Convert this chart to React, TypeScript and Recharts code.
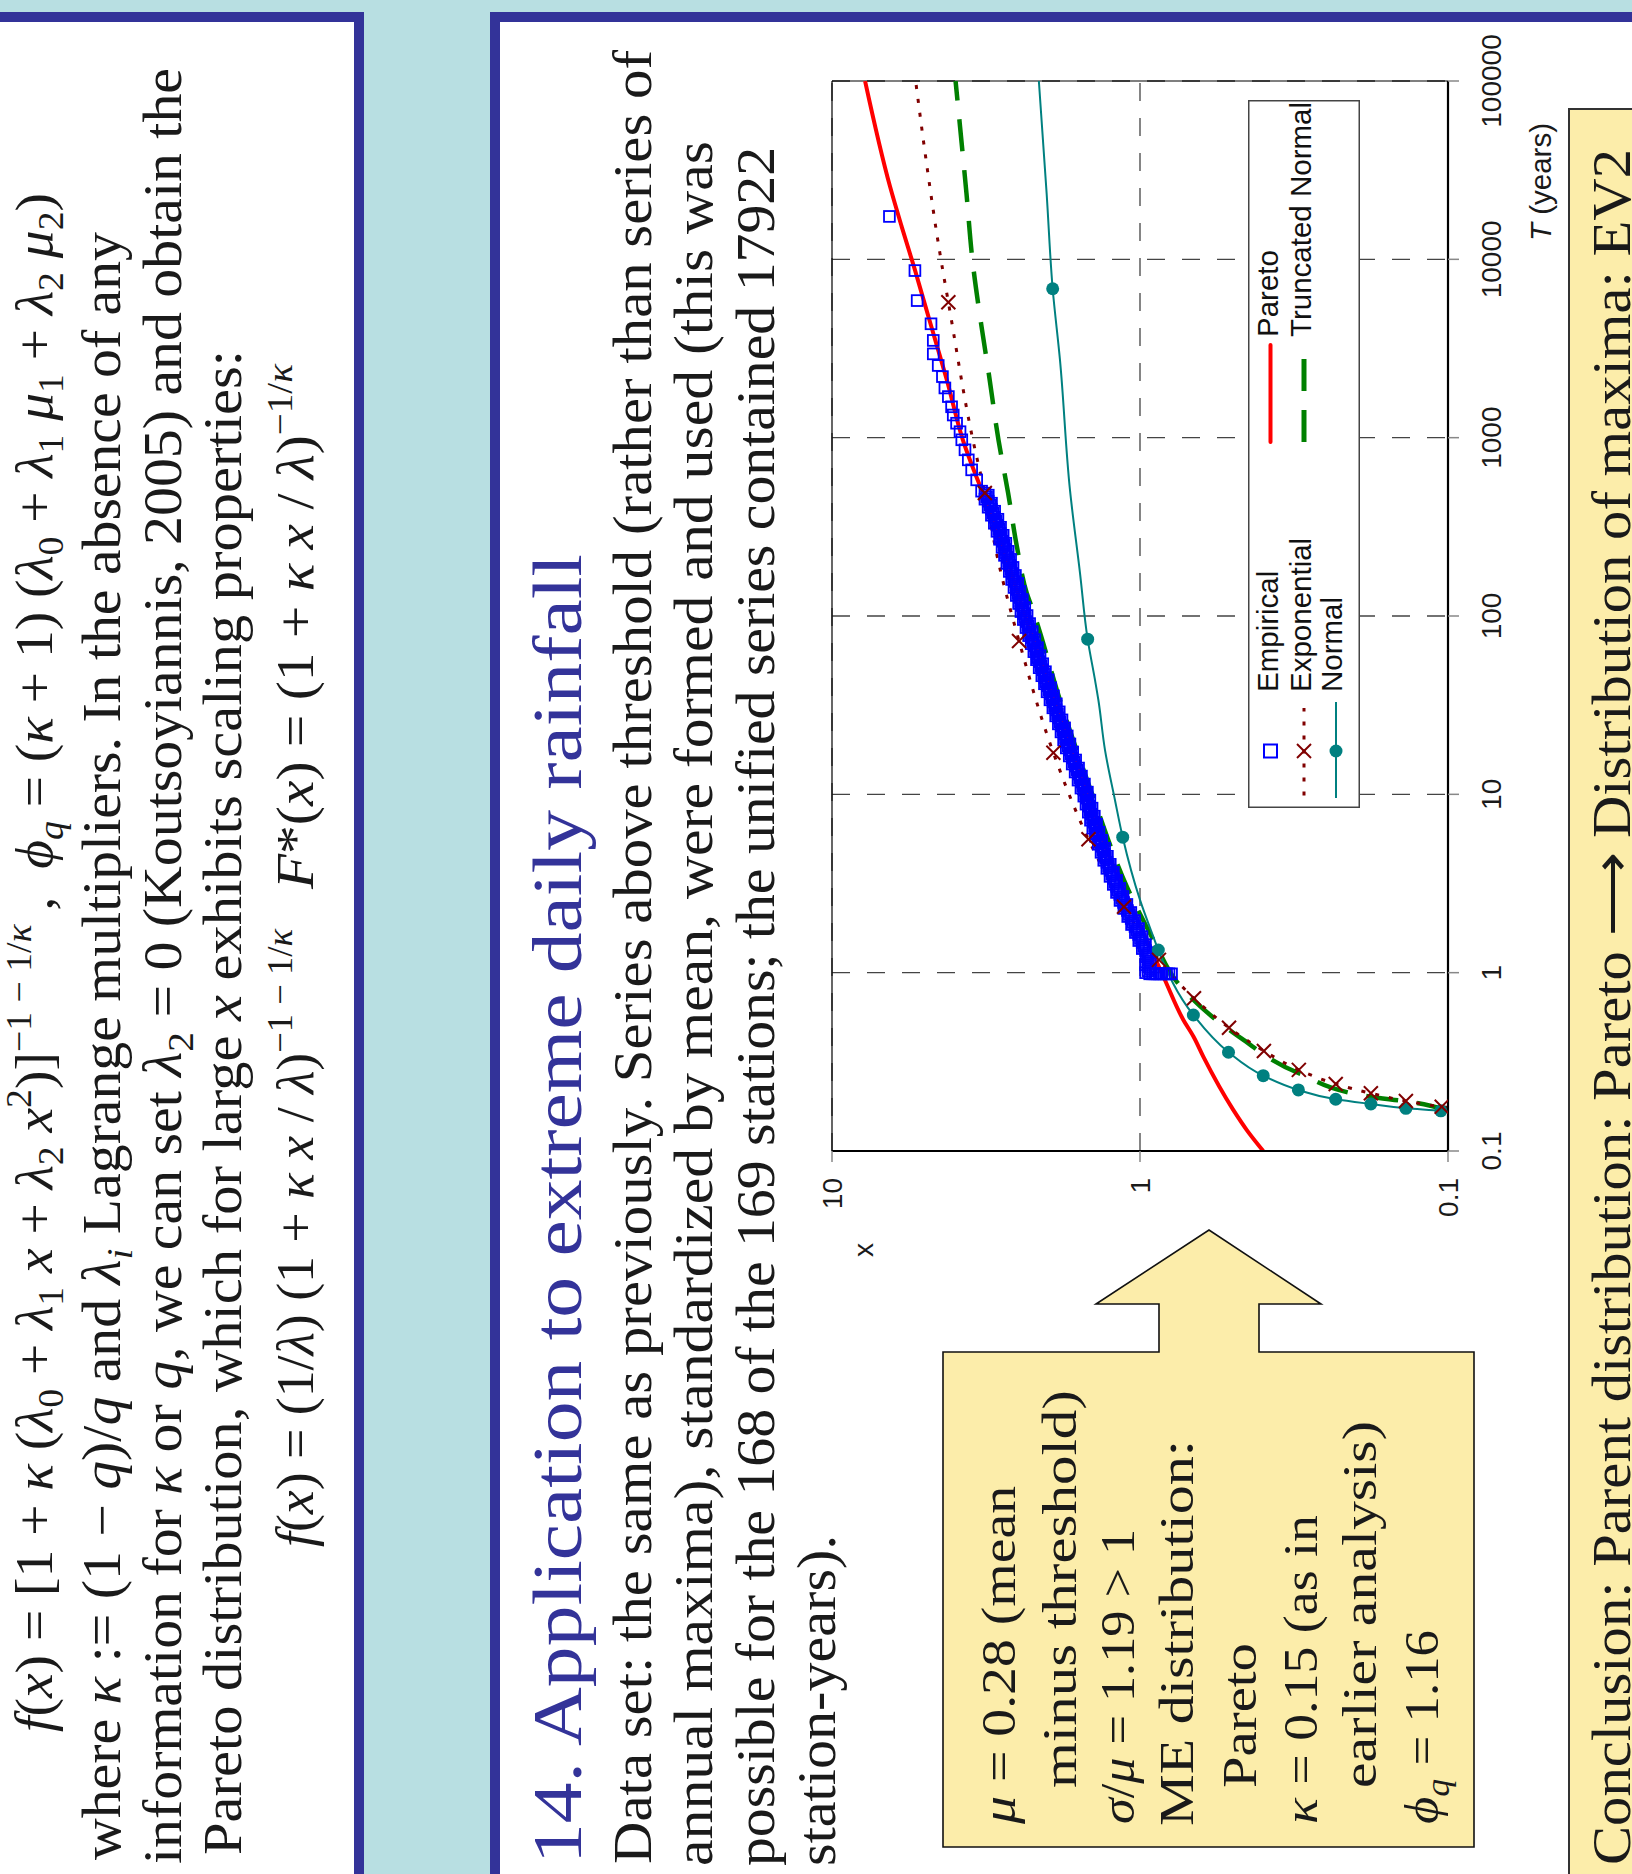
import React from 'react';
import {
  ComposedChart,
  Line,
  Scatter,
  XAxis,
  YAxis,
  CartesianGrid,
  ReferenceLine,
  Legend,
} from 'recharts';

// ---- axes -------------------------------------------------------------
const T_TICKS = [0.1, 1, 10, 100, 1000, 10000, 100000];
const X_TICKS = [0.1, 1, 10];

// ---- empirical return periods T (years) and standardized depths x ------
const empiricalT = [
  0.985, 0.985, 0.985, 0.985, 0.985, 0.985, 0.985, 0.985, 0.985, 0.985,
  1.0, 1.053, 1.109, 1.168, 1.23, 1.296, 1.365, 1.437, 1.514, 1.594,
  1.679, 1.768, 1.862, 1.961, 2.065, 2.175, 2.291, 2.413, 2.541, 2.676,
  2.818, 2.968, 3.126, 3.292, 3.467, 3.652, 3.846, 4.05, 4.266, 4.493,
  4.732, 4.983, 5.248, 5.527, 5.821, 6.131, 6.457, 6.8, 7.161, 7.542,
  7.943, 8.366, 8.81, 9.279, 9.772, 10.29, 10.84, 11.42, 12.02, 12.66,
  13.34, 14.04, 14.79, 15.58, 16.41, 17.28, 18.2, 19.17, 20.18, 21.26,
  22.39, 23.58, 24.83, 26.15, 27.54, 29.01, 30.55, 32.17, 33.88, 35.68,
  37.58, 39.58, 41.69, 43.9, 46.24, 48.7, 51.29, 54.0, 56.89, 59.91,
  63.1, 66.45, 69.98, 73.7, 77.62, 81.75, 86.1, 90.68, 95.5, 100.6,
  105.9, 111.6, 117.5, 123.7, 130.3, 137.2, 144.5, 152.2, 160.3, 168.8,
  177.8, 187.3, 197.2, 207.7, 218.8, 230.4, 242.7, 255.6, 269.2, 283.5,
  298.5, 314.4, 331.1, 348.7, 367.3, 386.8, 407.4, 429.0, 451.9, 475.9,
  501.2,
  1.026, 1.081, 1.138, 1.199, 1.262, 1.33, 1.401, 1.475, 1.554, 1.636,
  1.723, 1.814, 1.911, 2.012, 2.119, 2.232, 2.351, 2.476, 2.608, 2.746,
  2.892, 3.046, 3.208, 3.378, 3.558, 3.748, 3.947, 4.156, 4.378, 4.611,
  4.856, 5.114, 5.386, 5.672, 5.974, 6.292, 6.626, 6.979, 7.349, 7.74,
  8.151, 8.585, 9.041, 9.522, 10.03, 10.56, 11.12, 11.72, 12.34, 12.99,
  13.69, 14.41, 15.18, 15.99, 16.84, 17.73, 18.68, 19.67, 20.71, 21.82,
  22.98, 24.2, 25.48, 26.84, 28.26, 29.77, 31.35, 33.01, 34.77, 36.62,
  38.57, 40.62, 42.78, 45.05, 47.45, 49.98, 52.64, 55.42, 58.38, 61.48,
  64.76, 68.19, 71.82, 75.64, 79.66, 83.9, 88.36, 93.06, 98.01, 103.2,
  108.7, 114.5, 120.6, 126.9, 133.7, 140.8, 148.3, 156.2, 164.5, 173.2,
  182.5, 192.2, 202.4, 213.2, 224.5, 236.4, 249.1, 262.3, 276.3, 290.9,
  306.3, 322.7, 339.8, 357.9, 376.9, 397.0, 418.1, 440.3, 463.8, 488.4,
  580, 660, 751, 855, 973, 1080, 1205, 1340, 1490, 1700,
  1900, 2200, 2540, 2950, 3510, 4350, 5870, 8650, 17400,
];
const empiricalX = [
  0.93, 0.91, 0.895, 0.88, 0.865, 0.85, 0.835, 0.82, 0.805, 0.79,
  0.959, 0.925, 0.959, 0.925, 0.957, 0.935, 0.983, 0.96, 1.009, 0.985,
  1.035, 1.011, 1.065, 1.041, 1.096, 1.071, 1.128, 1.103, 1.161, 1.135,
  1.192, 1.163, 1.221, 1.191, 1.251, 1.22, 1.281, 1.249, 1.311, 1.276,
  1.338, 1.303, 1.366, 1.331, 1.395, 1.359, 1.423, 1.384, 1.448, 1.407,
  1.472, 1.431, 1.497, 1.455, 1.522, 1.482, 1.555, 1.515, 1.589, 1.549,
  1.624, 1.583, 1.66, 1.618, 1.697, 1.654, 1.735, 1.689, 1.77, 1.723,
  1.805, 1.757, 1.841, 1.792, 1.878, 1.829, 1.918, 1.869, 1.96, 1.91,
  2.003, 1.949, 2.043, 1.988, 2.083, 2.028, 2.125, 2.069, 2.168, 2.111,
  2.211, 2.152, 2.255, 2.195, 2.299, 2.238, 2.345, 2.282, 2.392, 2.326,
  2.435, 2.367, 2.477, 2.409, 2.521, 2.451, 2.565, 2.494, 2.61, 2.538,
  2.657, 2.584, 2.705, 2.631, 2.754, 2.679, 2.804, 2.727, 2.857, 2.781,
  2.913, 2.836, 2.971, 2.893, 3.037, 2.964, 3.112, 3.035, 3.187, 3.109,
  3.268,
  0.942, 0.942, 0.942, 0.941, 0.946, 0.959, 0.971, 0.984, 0.997, 1.01,
  1.023, 1.038, 1.053, 1.068, 1.083, 1.099, 1.115, 1.131, 1.148, 1.163,
  1.177, 1.191, 1.206, 1.22, 1.235, 1.25, 1.265, 1.28, 1.294, 1.307,
  1.321, 1.335, 1.349, 1.363, 1.377, 1.391, 1.404, 1.415, 1.427, 1.439,
  1.451, 1.464, 1.476, 1.488, 1.502, 1.518, 1.535, 1.551, 1.569, 1.586,
  1.603, 1.621, 1.639, 1.657, 1.675, 1.694, 1.712, 1.729, 1.746, 1.763,
  1.781, 1.799, 1.817, 1.835, 1.853, 1.873, 1.894, 1.914, 1.935, 1.956,
  1.976, 1.996, 2.015, 2.035, 2.055, 2.076, 2.097, 2.118, 2.139, 2.16,
  2.182, 2.203, 2.225, 2.247, 2.269, 2.291, 2.313, 2.336, 2.359, 2.38,
  2.401, 2.422, 2.443, 2.464, 2.486, 2.507, 2.529, 2.552, 2.574, 2.597,
  2.62, 2.644, 2.668, 2.692, 2.716, 2.741, 2.765, 2.791, 2.819, 2.846,
  2.874, 2.903, 2.932, 2.964, 3.0, 3.037, 3.073, 3.11, 3.148, 3.187,
  3.39, 3.52, 3.61, 3.7, 3.79, 3.84, 3.94, 4.04, 4.09, 4.19,
  4.3, 4.38, 4.52, 4.69, 4.69, 4.77, 5.29, 5.38, 6.51,
];

// ---- fitted distributions ---------------------------------------------
const paretoT = [0.1, 0.131, 0.17, 0.338, 0.437, 0.543, 0.91, 2, 5, 10, 30, 100, 300, 1000, 2110, 4580, 8730, 15270, 25600, 100000];
const paretoX = [0.398, 0.45, 0.498, 0.623, 0.67, 0.723, 0.83, 1.02, 1.29, 1.47, 1.85, 2.36, 2.9, 3.78, 4.24, 4.83, 5.38, 5.94, 6.48, 7.81];

const exponentialMarkT = [0.1772, 0.1907, 0.2107, 0.2376, 0.285, 0.364, 0.491, 0.719, 1.18, 2.34, 5.6, 17.1, 72.4, 489, 5750];
const exponentialMarkX = [0.1048, 0.137, 0.178, 0.2315, 0.305, 0.396, 0.514, 0.668, 0.868, 1.127, 1.47, 1.911, 2.47, 3.19, 4.19];
const exponentialCurveT = [0.1755, 200, 1000, 10000, 36100, 100000];
const exponentialCurveX = [0.1, 2.88, 3.5, 4.43, 4.95, 5.35];

const truncNormalT = [0.169, 0.19, 0.2016, 0.273, 0.429, 0.89, 1.5, 3, 10, 30, 113, 134, 245, 489, 970, 2400, 4200, 9930, 23500, 55600, 100000];
const truncNormalX = [0.1, 0.137, 0.179, 0.305, 0.47, 0.76, 0.9, 1.1, 1.43, 1.78, 2.25, 2.33, 2.51, 2.68, 2.88, 3.11, 3.27, 3.5, 3.66, 3.84, 3.97];

const normalMarkT = [0.168, 0.1736, 0.1835, 0.195, 0.22, 0.2645, 0.358, 0.579, 1.34, 5.75, 74.1, 6840];
const normalMarkX = [0.1055, 0.137, 0.178, 0.2315, 0.306, 0.398, 0.516, 0.671, 0.872, 1.138, 1.479, 1.921];
const normalCurveT = [0.1665, 1.59, 2.56, 9.3, 17.7, 33.8, 43.8, 174, 509, 2730, 23500, 100000];
const normalCurveX = [0.1, 0.905, 1.0, 1.206, 1.299, 1.365, 1.4, 1.566, 1.688, 1.819, 2.01, 2.13];

type Pt = { T: number; x: number };
const rows = (ts: number[], xs: number[]): Pt[] => ts.map((T, i) => ({ T, x: xs[i] }));
const byT = (a: Pt, b: Pt) => a.T - b.T;

const empiricalData = rows(empiricalT, empiricalX);
const paretoData = rows(paretoT, paretoX);
const exponentialMarks = rows(exponentialMarkT, exponentialMarkX);
const exponentialData = [...exponentialMarks, ...rows(exponentialCurveT, exponentialCurveX)].sort(byT);
const truncNormalData = rows(truncNormalT, truncNormalX);
const normalMarks = rows(normalMarkT, normalMarkX);
const normalData = [...normalMarks, ...rows(normalCurveT, normalCurveX)].sort(byT);

// ---- styling ------------------------------------------------------------
const BLUE = '#0000ff';
const RED = '#ff0000';
const MAROON = '#800000';
const GREEN = '#008000';
const TEAL = '#008080';
const NAVY = '#333399';
const SKY = '#b8dfe2';
const PALE_YELLOW = '#fcedaa';
const INK = '#1a1a1a';
const FONT_SANS = "'Liberation Sans', Arial, Helvetica, sans-serif";
const FONT_SERIF = "'Liberation Serif', 'Times New Roman', Times, serif";

const SquareShape = (p: any) => (
  <rect x={p.cx - 5.4} y={p.cy - 5.4} width={10.8} height={10.8} fill="none" stroke={BLUE} strokeWidth={1.8} />
);
const CrossShape = (p: any) => (
  <g stroke={MAROON} strokeWidth={2}>
    <line x1={p.cx - 7} y1={p.cy - 7} x2={p.cx + 7} y2={p.cy + 7} />
    <line x1={p.cx - 7} y1={p.cy + 7} x2={p.cx + 7} y2={p.cy - 7} />
  </g>
);
const DotShape = (p: any) => <circle cx={p.cx} cy={p.cy} r={6.5} fill={TEAL} />;

const XTitle = (props: any) => {
  const vb = props.viewBox || { x: 163, y: 668, width: 1070 };
  return (
    <text x={vb.x + vb.width - 42} y={vb.y + 103} textAnchor="end" fontSize={29.5} fontFamily={FONT_SANS} fill={INK}>
      <tspan fontStyle="italic">T</tspan>
      <tspan> (years)</tspan>
    </text>
  );
};
const YTitle = (props: any) => {
  const vb = props.viewBox || { x: 63, y: 52, width: 100 };
  return (
    <text x={vb.x + vb.width - 99} y={vb.y + 41} textAnchor="middle" fontSize={28} fontFamily={FONT_SANS} fill={INK}>
      x
    </text>
  );
};

const legendText = { fontSize: 29.5, fontFamily: FONT_SANS, fill: '#111' };
const LegendBox = () => (
  <svg width={708} height={112} style={{ display: 'block', overflow: 'visible' }}>
    <rect x={0.75} y={0.75} width={706.5} height={110.5} fill="#fff" stroke="#444" strokeWidth={1.5} />
    <rect x={50.5} y={16} width={13} height={13} fill="none" stroke={BLUE} strokeWidth={2} />
    <line x1={12.5} y1={56} x2={100} y2={56} stroke={MAROON} strokeWidth={3} strokeDasharray="4 10" />
    <g stroke={MAROON} strokeWidth={2}>
      <line x1={50} y1={49} x2={64} y2={63} />
      <line x1={50} y1={63} x2={64} y2={49} />
    </g>
    <line x1={10} y1={88} x2={106} y2={88} stroke={TEAL} strokeWidth={2} />
    <circle cx={57} cy={88} r={6.5} fill={TEAL} />
    <text x={116} y={30} {...legendText}>Empirical</text>
    <text x={116} y={62.5} {...legendText}>Exponential</text>
    <text x={116} y={94} {...legendText}>Normal</text>
    <line x1={366} y1={22.5} x2={463} y2={22.5} stroke={RED} strokeWidth={4} strokeLinecap="round" />
    <line x1={366} y1={56} x2={449} y2={56} stroke={GREEN} strokeWidth={5} strokeDasharray="32 19" />
    <text x={471} y={30} {...legendText}>Pareto</text>
    <text x={471} y={62.5} {...legendText}>Truncated Normal</text>
  </svg>
);

const ReturnPeriodChart = () => (
  <ComposedChart width={1314} height={788} margin={{ top: 52, right: 81, bottom: 10, left: 63 }}>
    <CartesianGrid stroke="#444" strokeDasharray="18 17" strokeWidth={1.3} />
    <XAxis
      dataKey="T"
      type="number"
      scale="log"
      domain={[0.1, 100000]}
      ticks={T_TICKS}
      interval={0}
      allowDataOverflow
      height={110}
      tickSize={11}
      tickMargin={22}
      axisLine={{ stroke: '#000', strokeWidth: 2.2 }}
      tickLine={{ stroke: '#888', strokeWidth: 1.5 }}
      tick={{ fontSize: 28, fill: INK, fontFamily: FONT_SANS }}
      tickFormatter={(v: number) => String(v)}
      label={<XTitle />}
    />
    <YAxis
      dataKey="x"
      type="number"
      scale="log"
      domain={[0.1, 10]}
      ticks={X_TICKS}
      interval={0}
      allowDataOverflow
      width={100}
      tickSize={11}
      tickMargin={16}
      axisLine={{ stroke: '#000', strokeWidth: 2.2 }}
      tickLine={{ stroke: '#888', strokeWidth: 1.5 }}
      tick={{ fontSize: 28, fill: INK, fontFamily: FONT_SANS }}
      tickFormatter={(v: number) => String(v)}
      label={<YTitle />}
    />
    <ReferenceLine y={10} stroke="#000" strokeWidth={1.2} />
    <ReferenceLine x={100000} stroke="#000" strokeWidth={1.2} />
    <Line data={paretoData} dataKey="x" type="monotone" stroke={RED} strokeWidth={4} dot={false} activeDot={false} isAnimationActive={false} />
    <Line data={truncNormalData} dataKey="x" type="monotone" stroke={GREEN} strokeWidth={4.5} strokeDasharray="32 19" dot={false} activeDot={false} isAnimationActive={false} />
    <Line data={exponentialData} dataKey="x" type="monotone" stroke={MAROON} strokeWidth={3} strokeDasharray="4 10" dot={false} activeDot={false} isAnimationActive={false} />
    <Scatter data={empiricalData} dataKey="x" shape={SquareShape} isAnimationActive={false} />
    <Line data={normalData} dataKey="x" type="monotone" stroke={TEAL} strokeWidth={2} dot={false} activeDot={false} isAnimationActive={false} />
    <Scatter data={normalMarks} dataKey="x" shape={DotShape} isAnimationActive={false} />
    <Scatter data={exponentialMarks} dataKey="x" shape={CrossShape} isAnimationActive={false} />
    <Legend
      content={() => <LegendBox />}
      layout="horizontal"
      verticalAlign="middle"
      align="center"
      wrapperStyle={{ left: 506, top: 468, width: 708, height: 112 }}
    />
  </ComposedChart>
);

// ---- poster text ----------------------------------------------------------
type Run = [string, string?];

const Rich = ({ x, y, len, size, runs, fill = INK }: { x: number; y: number; len: number; size: number; runs: Run[]; fill?: string }) => {
  let shift = 0;
  return (
    <text
      x={x}
      y={y}
      fontSize={size}
      fontFamily={FONT_SERIF}
      fill={fill}
      textLength={len}
      lengthAdjust="spacingAndGlyphs"
      style={{ whiteSpace: 'pre' }}
    >
      {runs.map(([s, f = ''], i) => {
        const target = f.includes('b') ? size * 0.22 : f.includes('p') ? -size * 0.4 : 0;
        const dy = target - shift;
        shift = target;
        return (
          <tspan key={i} dy={dy} fontStyle={f.includes('i') ? 'italic' : 'normal'} fontSize={target !== 0 ? size * 0.68 : size}>
            {s}
          </tspan>
        );
      })}
    </text>
  );
};

const upperLines: { x: number; y: number; len: number; size: number; runs: Run[] }[] = [
  {
    x: 142, y: 52, len: 1539, size: 52,
    runs: [['f', 'i'], ['('], ['x', 'i'], [') = [1 + '], ['κ', 'i'], [' ('], ['λ', 'i'], ['0', 'b'], [' + '], ['λ', 'i'], ['1', 'b'], [' '], ['x', 'i'], [' + '], ['λ', 'i'], ['2', 'b'], [' '], ['x', 'i'], ['2', 'p'], [')]'], ['−1 − 1/', 'p'], ['κ', 'pi'], [' ,  '], ['ϕ', 'i'], ['q', 'bi'], [' = ('], ['κ', 'i'], [' + 1) ('], ['λ', 'i'], ['0', 'b'], [' + '], ['λ', 'i'], ['1', 'b'], [' '], ['μ', 'i'], ['1', 'b'], [' + '], ['λ', 'i'], ['2', 'b'], [' '], ['μ', 'i'], ['2', 'b'], [')']],
  },
  {
    x: 14, y: 120, len: 1628, size: 54,
    runs: [['where '], ['κ', 'i'], [' := (1 − '], ['q', 'i'], [')/'], ['q', 'i'], [' and '], ['λ', 'i'], ['i', 'bi'], [' Lagrange multipliers. In the absence of any']],
  },
  {
    x: 10, y: 181, len: 1796, size: 54,
    runs: [['information for '], ['κ', 'i'], [' or '], ['q', 'i'], [', we can set '], ['λ', 'i'], ['2', 'b'], [' = 0 (Koutsoyiannis, 2005) and obtain the']],
  },
  {
    x: 19, y: 241, len: 1505, size: 54,
    runs: [['Pareto distribution, which for large '], ['x', 'i'], [' exhibits scaling properties:']],
  },
  {
    x: 327, y: 313, len: 618, size: 52,
    runs: [['f', 'i'], ['('], ['x', 'i'], [') = (1/'], ['λ', 'i'], [') (1 + '], ['κ', 'i'], [' '], ['x', 'i'], [' / '], ['λ', 'i'], [')'], ['−1 − 1/', 'p'], ['κ', 'pi']],
  },
  {
    x: 985, y: 313, len: 525, size: 52,
    runs: [['F', 'i'], ['*('], ['x', 'i'], [') = (1 + '], ['κ', 'i'], [' '], ['x', 'i'], [' / '], ['λ', 'i'], [')'], ['−1/', 'p'], ['κ', 'pi']],
  },
];

const bodyLines: { x: number; y: number; len: number; text: string }[] = [
  { x: 10, y: 651, len: 1814, text: 'Data set: the same as previously. Series above threshold (rather than series of' },
  { x: 8, y: 712, len: 1725, text: 'annual maxima), standardized by mean, were formed and used (this was' },
  { x: 8, y: 774, len: 1719, text: 'possible for the 168 of the 169 stations; the unified series contained 17922' },
  { x: 8, y: 835, len: 331, text: 'station-years).' },
];

const boxLines: { x: number; y: number; len: number; runs: Run[] }[] = [
  { x: 50, y: 1015, len: 338, runs: [['μ', 'i'], [' = 0.28 (mean']] },
  { x: 86, y: 1076, len: 398, runs: [['minus threshold)']] },
  { x: 50, y: 1134, len: 295, runs: [['σ', 'i'], ['/'], ['μ', 'i'], [' = 1.19 > 1']] },
  { x: 48, y: 1193, len: 386, runs: [['ME distribution:']] },
  { x: 86, y: 1256, len: 145, runs: [['Pareto']] },
  { x: 50, y: 1317, len: 309, runs: [['κ', 'i'], [' = 0.15 (as in']] },
  { x: 86, y: 1376, len: 367, runs: [['earlier analysis)']] },
  { x: 50, y: 1438, len: 194, runs: [['ϕ', 'i'], ['q', 'bi'], [' = 1.16']] },
];

const Poster = () => (
  <svg width={1874} height={1632} style={{ position: 'absolute', left: 0, top: 0 }}>
    <rect x={0} y={0} width={1874} height={1632} fill={SKY} />
    {/* upper panel */}
    <rect x={-20} y={-20} width={1882} height={384} fill={NAVY} />
    <rect x={-20} y={-20} width={1872} height={374} fill="#fff" />
    {/* main panel */}
    <rect x={-20} y={490} width={1882} height={1200} fill={NAVY} />
    <rect x={-20} y={500} width={1872} height={1190} fill="#fff" />

    {upperLines.map((l, i) => (
      <Rich key={`u${i}`} x={l.x} y={l.y} len={l.len} size={l.size} runs={l.runs} />
    ))}

    <Rich x={10} y={581} len={1310} size={70} runs={[['14. Application to extreme daily rainfall']]} fill={NAVY} />
    {bodyLines.map((l, i) => (
      <Rich key={`b${i}`} x={l.x} y={l.y} len={l.len} size={54} runs={[[l.text]]} />
    ))}

    {/* parameter call-out with arrow */}
    <path
      d="M27,943 L522,943 L522,1159 L570,1159 L570,1096 L644,1209 L570,1321 L570,1259 L522,1259 L522,1474 L27,1474 Z"
      fill={PALE_YELLOW}
      stroke="#111"
      strokeWidth={1.6}
      strokeLinejoin="miter"
    />
    {boxLines.map((l, i) => (
      <Rich key={`y${i}`} x={l.x} y={l.y} len={l.len} size={49} runs={l.runs} />
    ))}

    {/* conclusion banner */}
    <rect x={-20} y={1569} width={1785} height={200} fill={PALE_YELLOW} stroke="#333" strokeWidth={2} />
    <Rich x={9} y={1630} len={1716} size={54} runs={[['Conclusion: Parent distribution: Pareto ⟶ Distribution of maxima: EV2']]} />
  </svg>
);

export default function App() {
  return (
    <div style={{ position: 'absolute', left: 0, top: 0, width: 1632, height: 1874, overflow: 'hidden', background: SKY }}>
      <div
        style={{
          position: 'absolute',
          left: 0,
          top: 0,
          width: 1874,
          height: 1632,
          transformOrigin: '0 0',
          transform: 'translate(0px, 1874px) rotate(-90deg)',
        }}
      >
        <Poster />
        <div style={{ position: 'absolute', left: 560, top: 780 }}>
          <ReturnPeriodChart />
        </div>
      </div>
    </div>
  );
}
